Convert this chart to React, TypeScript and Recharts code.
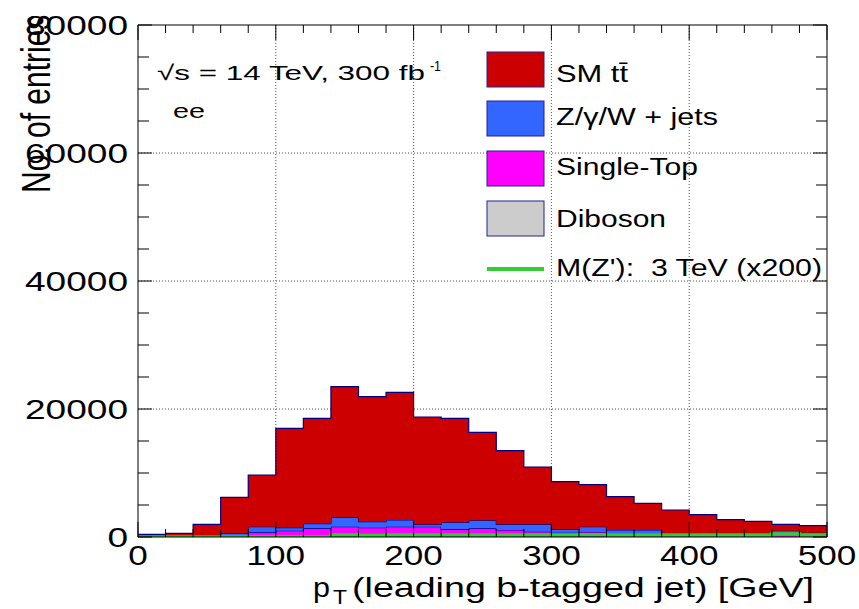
import React from 'react';
import { ComposedChart, Area, Line, XAxis, YAxis, CartesianGrid, Legend } from 'recharts';

// bin edges in GeV (20 GeV bins)
const binEdges = [0, 20, 40, 60, 80, 100, 120, 140, 160, 180, 200, 220, 240, 260, 280, 300, 320, 340, 360, 380, 400, 420, 440, 460, 480, 500];

// entries per bin, one value per bin
const ttbar = [120, 280, 1680, 5620, 8080, 15520, 16460, 20420, 19530, 19940, 16770, 16250, 13750, 11510, 8960, 7450, 6570, 5210, 4170, 3620, 2940, 2160, 1850, 990, 1090];
const zjets = [200, 200, 200, 380, 880, 470, 730, 1460, 940, 1050, 370, 1090, 1250, 890, 1150, 520, 830, 590, 590, 150, 100, 100, 150, 390, 230];
const singleTop = [70, 60, 50, 140, 650, 900, 1250, 1500, 1360, 1510, 1520, 1110, 1270, 1010, 760, 620, 720, 450, 450, 410, 410, 420, 420, 570, 420];
const diboson = [30, 40, 50, 60, 80, 90, 100, 110, 100, 100, 90, 90, 80, 80, 70, 60, 60, 50, 50, 40, 40, 30, 30, 30, 30];
const zprime = [0, 0, 0, 0, 0, 0, 0, 300, 250, 300, 300, 300, 300, 320, 320, 300, 350, 300, 300, 300, 300, 300, 300, 450, 300];

const xMajorTicks = [0, 100, 200, 300, 400, 500];
const xMinorTicks = [0, 20, 40, 60, 80, 100, 120, 140, 160, 180, 200, 220, 240, 260, 280, 300, 320, 340, 360, 380, 400, 420, 440, 460, 480, 500];
const yMajorTicks = [0, 20000, 40000, 60000, 80000];
const yMinorTicks = [0, 5000, 10000, 15000, 20000, 25000, 30000, 35000, 40000, 45000, 50000, 55000, 60000, 65000, 70000, 75000, 80000];
const xGrid = [100, 200, 300, 400];
const yGrid = [20000, 40000, 60000];

const legendItems = [
  { name: 'SM tt\u0304', color: '#cc0000', width: 72 },
  { name: 'Z/\u03b3/W + jets', color: '#3366ff', width: 162 },
  { name: 'Single-Top', color: '#ff00ff', width: 142 },
  { name: 'Diboson', color: '#cccccc', width: 110 },
];

const FONT = '"Liberation Sans", Arial, Helvetica, sans-serif';
const OUTLINE = '#000080';

// last edge repeats the last bin so the step closes at 500
const rows = binEdges.map((x, i) => {
  const k = Math.min(i, ttbar.length - 1);
  return {
    x,
    ttbar: ttbar[k],
    zjets: zjets[k],
    singleTop: singleTop[k],
    diboson: diboson[k],
    zprime: zprime[k],
  };
});

// ROOT-style ticks: drawn inward, major longer than minor
const BottomTick = (props: any) => {
  const { x, y, payload } = props;
  const major = xMajorTicks.includes(payload.value);
  const s = String(payload.value);
  return (
    <g>
      <line x1={x} x2={x} y1={y} y2={y - (major ? 15 : 8)} stroke="#000" strokeWidth={1} />
      {major && (
        <text x={x} y={y + 28} textAnchor="middle" fontFamily={FONT} fontSize={28} fill="#000"
          textLength={s.length * 19.5} lengthAdjust="spacingAndGlyphs">{s}</text>
      )}
    </g>
  );
};

const TopTick = (props: any) => {
  const { x, y, payload } = props;
  const major = xMajorTicks.includes(payload.value);
  return <line x1={x} x2={x} y1={y} y2={y + (major ? 15 : 8)} stroke="#000" strokeWidth={1} />;
};

const LeftTick = (props: any) => {
  const { x, y, payload } = props;
  const major = yMajorTicks.includes(payload.value);
  const s = String(payload.value);
  return (
    <g>
      <line x1={x} x2={x + (major ? 14 : 11)} y1={y} y2={y} stroke="#000" strokeWidth={1} />
      {major && (
        <text x={x - 10} y={y + 10} textAnchor="end" fontFamily={FONT} fontSize={28} fill="#000"
          textLength={s.length * 20.6} lengthAdjust="spacingAndGlyphs">{s}</text>
      )}
    </g>
  );
};

const RightTick = (props: any) => {
  const { x, y, payload } = props;
  const major = yMajorTicks.includes(payload.value);
  return <line x1={x} x2={x - (major ? 14 : 11)} y1={y} y2={y} stroke="#000" strokeWidth={1} />;
};

const LegendContent = () => (
  <svg width={360} height={250} style={{ display: 'block', overflow: 'visible' }}>
    {legendItems.map((it, i) => {
      const top = [12, 61, 111, 161][i];
      const base = [42, 85, 135, 187][i];
      return (
        <g key={it.name}>
          <rect x={7} y={top} width={57} height={35} fill={it.color} stroke="#2020a0" strokeWidth={1} />
          <text x={76} y={base} fontFamily={FONT} fontSize={23} fill="#000"
            textLength={it.width} lengthAdjust="spacingAndGlyphs">{it.name}</text>
        </g>
      );
    })}
    <line x1={7} x2={64} y1={229} y2={229} stroke="#33cc33" strokeWidth={4} />
    <text x={76} y={236} fontFamily={FONT} fontSize={23} fill="#000" xmlSpace="preserve"
      textLength={266} lengthAdjust="spacingAndGlyphs">{"M(Z'):  3 TeV (x200)"}</text>
  </svg>
);

const xCommon = { type: 'number' as const, dataKey: 'x', domain: [0, 500], allowDataOverflow: true, interval: 0 as const };
const yCommon = { type: 'number' as const, domain: [0, 80000], allowDataOverflow: true, interval: 0 as const };

export default function App() {
  return (
    <div style={{ position: 'absolute', left: 0, top: 0, width: 859, height: 609, background: '#fff' }}>
      <ComposedChart width={859} height={609} data={rows} margin={{ top: 25, right: 32, bottom: 72, left: 138 }}>
        <CartesianGrid xAxisId="x" yAxisId="y" verticalValues={xGrid} horizontalValues={yGrid}
          stroke="#555" strokeDasharray="1 2" strokeWidth={1} />

        <Area xAxisId="x" yAxisId="y" type="stepAfter" dataKey="diboson" stackId="bg" fill="#cccccc" fillOpacity={1}
          stroke={OUTLINE} strokeWidth={1.2} isAnimationActive={false} />
        <Area xAxisId="x" yAxisId="y" type="stepAfter" dataKey="singleTop" stackId="bg" fill="#ff00ff" fillOpacity={1}
          stroke={OUTLINE} strokeWidth={1.2} isAnimationActive={false} />
        <Area xAxisId="x" yAxisId="y" type="stepAfter" dataKey="zjets" stackId="bg" fill="#3366ff" fillOpacity={1}
          stroke={OUTLINE} strokeWidth={1.2} isAnimationActive={false} />
        <Area xAxisId="x" yAxisId="y" type="stepAfter" dataKey="ttbar" stackId="bg" fill="#cc0000" fillOpacity={1}
          stroke={OUTLINE} strokeWidth={1.2} isAnimationActive={false} />
        <Line xAxisId="x" yAxisId="y" type="stepAfter" dataKey="zprime" stroke="#33cc33" strokeWidth={3.5}
          dot={false} isAnimationActive={false} />

        <XAxis xAxisId="x" {...xCommon} ticks={xMinorTicks}
          mirror tickSize={0} tickMargin={0} tickLine={false} axisLine={{ stroke: '#000', strokeWidth: 1 }} tick={BottomTick} />
        <XAxis xAxisId="xTop" orientation="top" {...xCommon} ticks={xMinorTicks}
          mirror tickSize={0} tickMargin={0} tickLine={false} axisLine={{ stroke: '#000', strokeWidth: 1 }} tick={TopTick} />
        <YAxis yAxisId="y" {...yCommon} ticks={yMinorTicks}
          mirror tickSize={0} tickMargin={0} tickLine={false} axisLine={{ stroke: '#000', strokeWidth: 1 }} tick={LeftTick} />
        <YAxis yAxisId="yR" orientation="right" {...yCommon} ticks={yMinorTicks}
          mirror tickSize={0} tickMargin={0} tickLine={false} axisLine={{ stroke: '#000', strokeWidth: 1 }} tick={RightTick} />

        <Legend layout="horizontal" verticalAlign="middle" align="center" content={LegendContent}
          wrapperStyle={{ left: 480, top: 40, width: 360, height: 250 }} />

        {/* axis titles */}
        <g transform="translate(50,193) scale(1.37,1) rotate(-90)">
          <text x={0} y={0} fontFamily={FONT} fontSize={30} fill="#000">No. of entries</text>
        </g>
        <text x={313} y={597} fontFamily={FONT} fontSize={27} fill="#000" textLength={17} lengthAdjust="spacingAndGlyphs">p</text>
        <text x={333} y={604} fontFamily={FONT} fontSize={20} fill="#000" textLength={14} lengthAdjust="spacingAndGlyphs">T</text>
        <text x={352} y={597} fontFamily={FONT} fontSize={27} fill="#000" textLength={462} lengthAdjust="spacingAndGlyphs">(leading b-tagged jet) [GeV]</text>

        {/* annotations */}
        <text x={157} y={80} fontFamily={FONT} fontSize={21} fill="#000" textLength={268} lengthAdjust="spacingAndGlyphs">{'\u221as = 14 TeV, 300 fb'}</text>
        <text x={430} y={71} fontFamily={FONT} fontSize={14} fill="#000" textLength={11} lengthAdjust="spacingAndGlyphs">-1</text>
        <text x={173} y={118} fontFamily={FONT} fontSize={21} fill="#000" textLength={32} lengthAdjust="spacingAndGlyphs">ee</text>
      </ComposedChart>
    </div>
  );
}
